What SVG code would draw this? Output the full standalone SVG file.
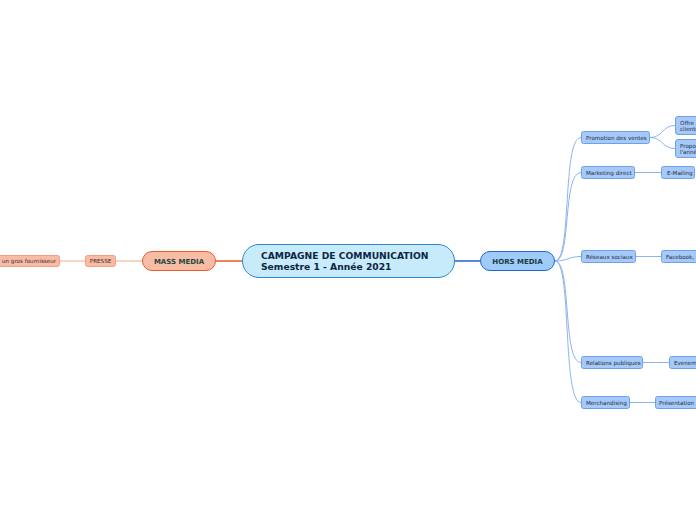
<svg xmlns="http://www.w3.org/2000/svg" width="696" height="520" viewBox="0 0 696 520">
<style>
text{font-family:"DejaVu Sans","Verdana",sans-serif}
.sub{fill:#a6c9f8;stroke:#6fa0ee;stroke-width:1}
.subt{font-size:5.6px;fill:#1a2a44}
.org{fill:#f8bba5;stroke:#f29e80;stroke-width:1}
.orgt{font-size:5.6px;fill:#3a2a20}
.bl{fill:none;stroke:#8bb4f0;stroke-width:1}
.or{fill:none;stroke:#f4a98c;stroke-width:1}
</style>
<rect width="696" height="520" fill="#ffffff"/>
<g id="connectors">
<line x1="216" y1="261" x2="242" y2="261" stroke="#ea5a2a" stroke-width="1.5"/>
<line x1="455" y1="261" x2="480" y2="261" stroke="#1f5fc8" stroke-width="1.5"/>
<line class="or" x1="116" y1="261" x2="142" y2="261"/>
<line class="or" x1="60" y1="261" x2="85" y2="261"/>
<path class="bl" d="M555,261 C572,261 562,137.5 581,137.5"/>
<path class="bl" d="M555,261 C572,261 562,172.5 581,172.5"/>
<path class="bl" d="M555,261 C568,261 568,256.5 581,256.5"/>
<path class="bl" d="M555,261 C572,261 562,362.5 581,362.5"/>
<path class="bl" d="M555,261 C572,261 562,402.5 581,402.5"/>
<path class="bl" d="M650,137.5 C663,137.5 662,125.5 675,125.5"/>
<path class="bl" d="M650,137.5 C663,137.5 662,148.5 675,148.5"/>
<line class="bl" x1="635" y1="172.5" x2="661" y2="172.5"/>
<line class="bl" x1="636" y1="256.5" x2="661" y2="256.5"/>
<line class="bl" x1="643" y1="362.5" x2="669" y2="362.5"/>
<line class="bl" x1="630" y1="402.5" x2="655" y2="402.5"/>
</g>
<g id="central">
<rect x="242.5" y="244.5" width="212" height="33" rx="16.5" fill="#c8ebfb" stroke="#2a88d0" stroke-width="1"/>
<text x="261" y="259" font-size="9.2" font-weight="bold" fill="#0d2544">CAMPAGNE DE COMMUNICATION</text>
<text x="261" y="270" font-size="9.2" font-weight="bold" fill="#0d2544">Semestre 1 - Année 2021</text>
</g>
<g id="mass-media">
<rect x="142.5" y="251.5" width="73" height="19" rx="9.5" fill="#f8bba5" stroke="#ea5a2a" stroke-width="1"/>
<text x="179" y="264" font-size="7" font-weight="bold" fill="#1b4a38" text-anchor="middle">MASS MEDIA</text>
</g>
<g id="presse">
<rect class="org" x="85.5" y="255.5" width="30" height="11" rx="2"/>
<text class="orgt" x="100.5" y="263" text-anchor="middle">PRESSE</text>
</g>
<g id="fournisseur">
<rect class="org" x="-10" y="255.5" width="69.5" height="11" rx="2"/>
<text class="orgt" x="2" y="263">un gros fournisseur</text>
</g>
<g id="hors-media">
<rect x="480.5" y="251.5" width="74" height="19" rx="9.5" fill="#9fcbf9" stroke="#2463d1" stroke-width="1"/>
<text x="517.5" y="264" font-size="7" font-weight="bold" fill="#163a40" text-anchor="middle">HORS MEDIA</text>
</g>
<g id="promotion">
<rect class="sub" x="581.5" y="131.5" width="68" height="12" rx="2"/>
<text class="subt" x="586" y="139.5">Promotion des ventes</text>
</g>
<g id="offre">
<rect class="sub" x="675.5" y="116.5" width="30" height="18" rx="2.5"/>
<text class="subt" x="680" y="124.5">Offre</text>
<text class="subt" x="680" y="131">clients</text>
</g>
<g id="propo">
<rect class="sub" x="675.5" y="139.5" width="30" height="18" rx="2.5"/>
<text class="subt" x="680" y="147.5">Propo</text>
<text class="subt" x="680" y="154">l'anné</text>
</g>
<g id="marketing">
<rect class="sub" x="581.5" y="166.5" width="53" height="12" rx="2"/>
<text class="subt" x="586" y="174.5">Marketing direct</text>
</g>
<g id="emailing">
<rect class="sub" x="661.5" y="166.5" width="33" height="12" rx="2"/>
<text class="subt" x="667" y="174.5">E-Mailing</text>
</g>
<g id="reseaux">
<rect class="sub" x="581.5" y="250.5" width="54" height="12" rx="2"/>
<text class="subt" x="586" y="258.5">Réseaux sociaux</text>
</g>
<g id="facebook">
<rect class="sub" x="661.5" y="250.5" width="45" height="12" rx="2"/>
<text class="subt" x="666" y="258.5">Facebook, I</text>
</g>
<g id="relations">
<rect class="sub" x="581.5" y="356.5" width="61" height="12" rx="2"/>
<text class="subt" x="586" y="364.5">Relations publiques</text>
</g>
<g id="evenem">
<rect class="sub" x="669.5" y="356.5" width="40" height="12" rx="2"/>
<text class="subt" x="674" y="364.5">Evenem</text>
</g>
<g id="merchandising">
<rect class="sub" x="581.5" y="396.5" width="48" height="12" rx="2"/>
<text class="subt" x="586" y="404.5">Merchandising</text>
</g>
<g id="presentation">
<rect class="sub" x="655.5" y="396.5" width="50" height="12" rx="2"/>
<text class="subt" x="659" y="404.5">Présentation</text>
</g>
</svg>
